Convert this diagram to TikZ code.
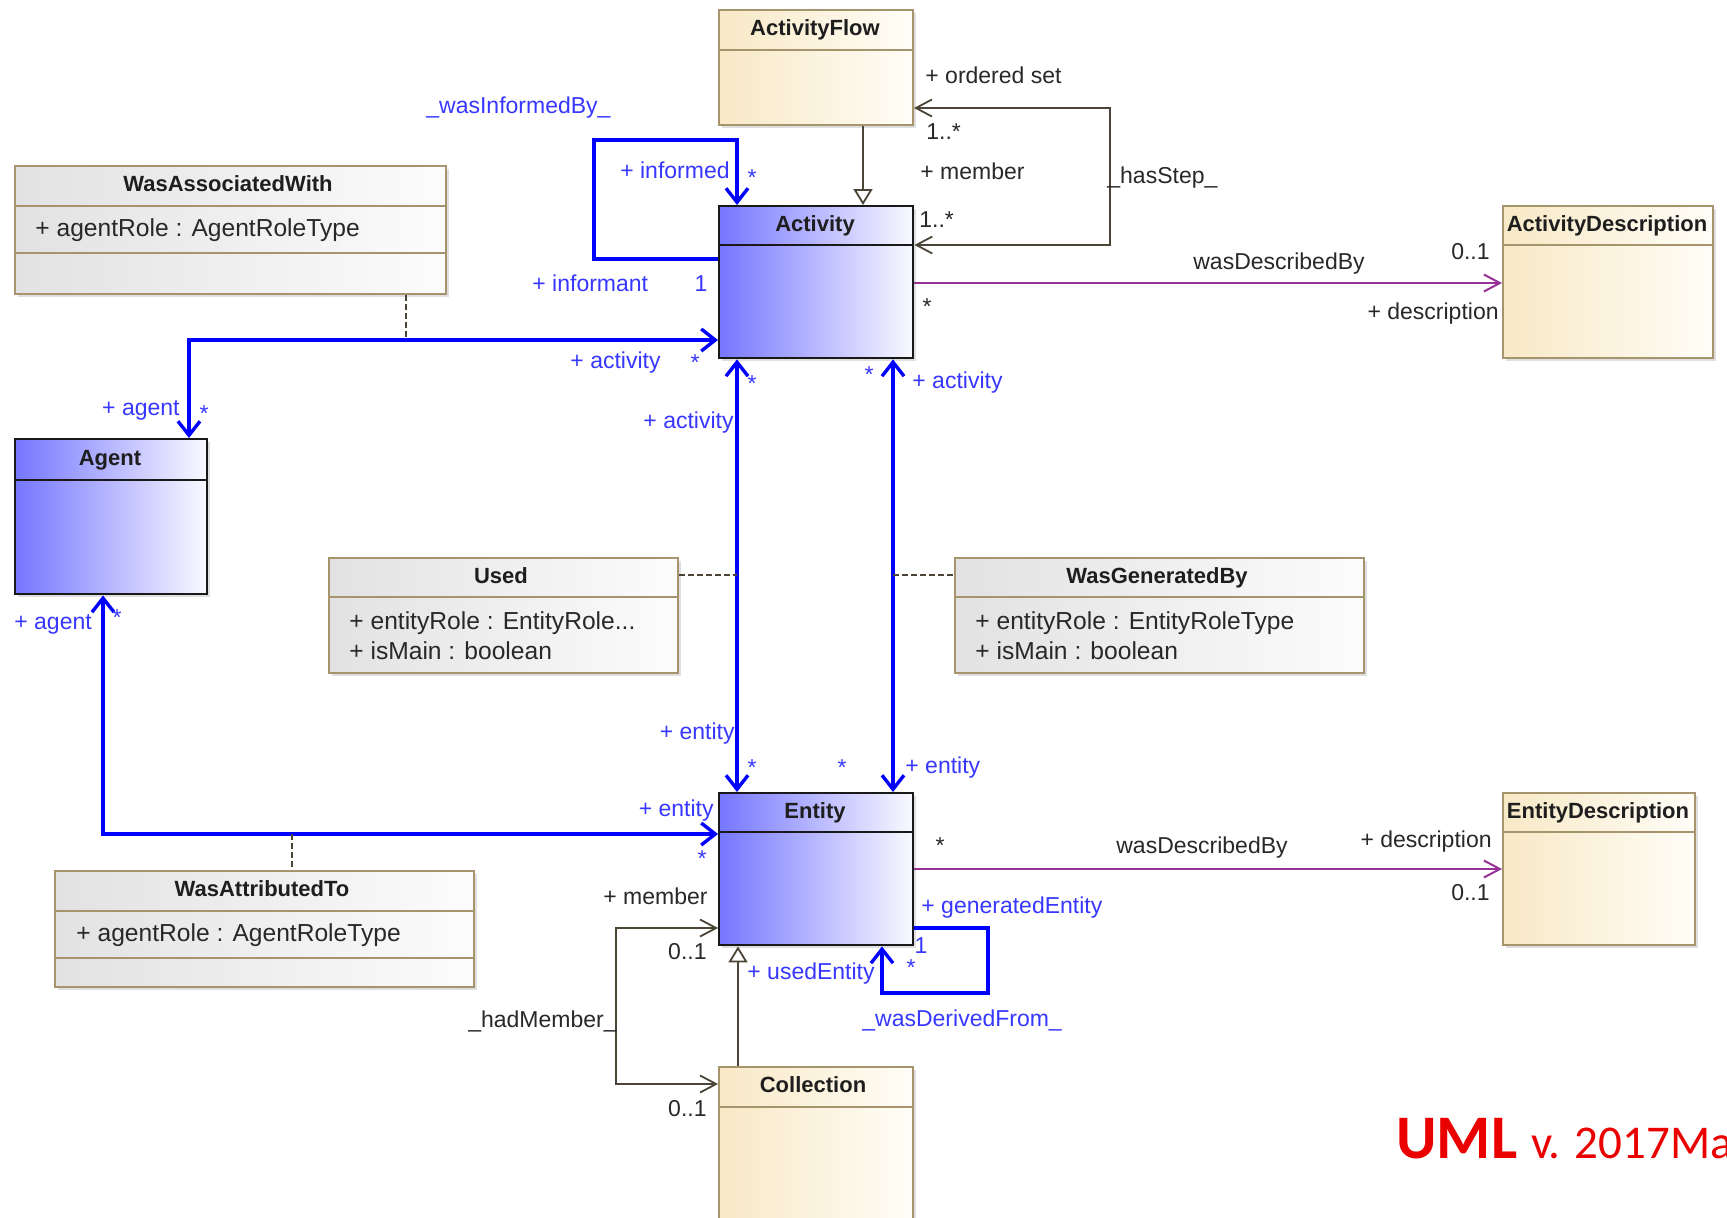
\documentclass[tikz,border=0pt]{standalone}
\usepackage{fontspec}
\setmainfont{Liberation Sans}
\newfontfamily\calibri{Carlito}
\usetikzlibrary{arrows.meta,shadows}
\definecolor{blueL}{RGB}{118,118,255}
\definecolor{blueR}{RGB}{250,250,255}
\definecolor{tanL}{RGB}{248,233,198}
\definecolor{tanR}{RGB}{255,253,247}
\definecolor{grayL}{RGB}{226,226,226}
\definecolor{grayR}{RGB}{252,252,252}
\definecolor{clsborder}{RGB}{25,25,25}
\definecolor{tanborder}{RGB}{165,148,108}
\definecolor{titlecol}{RGB}{30,30,30}
\definecolor{textcol}{RGB}{40,40,40}
\definecolor{lblblue}{RGB}{55,55,255}
\definecolor{assocblue}{RGB}{0,0,255}
\definecolor{linegray}{RGB}{75,68,55}
\definecolor{purp}{RGB}{150,50,150}
\definecolor{umlred}{RGB}{235,0,0}
\tikzset{
  btip/.tip={Straight Barb[length=7pt,width=11pt]},
  ttip/.tip={Straight Barb[length=8pt,width=8.5pt]},
  gtip/.tip={Triangle[length=8pt,width=9.5pt,fill=white]},
}
\begin{document}
\begin{tikzpicture}[x=0.5pt,y=-0.5pt,
  clsbase/.style={rectangle, anchor=north west, inner sep=0pt,
    drop shadow={shadow xshift=1.5pt,shadow yshift=-1.5pt,opacity=0.25}},
  bluebox/.style={clsbase, draw=clsborder, line width=1.2pt, left color=blueL, right color=blueR},
  tanbox/.style={clsbase, draw=tanborder, line width=1pt, left color=tanL, right color=tanR},
  graybox/.style={clsbase, draw=tanborder, line width=1pt, left color=grayL, right color=grayR},
  bluediv/.style={draw=clsborder, line width=1.2pt},
  tandiv/.style={draw=tanborder, line width=1pt},
  clstitle/.style={font=\bfseries\fontsize{11}{13}\selectfont, text=titlecol, inner sep=0pt, text height=1.5ex, text depth=.25ex},
  attrtxt/.style={font=\fontsize{12.3}{14}\selectfont, text=textcol, anchor=west, inner sep=0pt, text height=1.5ex, text depth=.25ex},
  lbl/.style={font=\fontsize{11.5}{13}\selectfont, inner sep=0pt, text height=1.5ex, text depth=.25ex},
  blbl/.style={lbl, text=lblblue},
  klbl/.style={lbl, text=textcol},
  blueline/.style={draw=assocblue, line width=1.7pt},
  grayline/.style={draw=linegray, line width=0.9pt},
  purpline/.style={draw=purp, line width=1pt},
  dashline/.style={draw=linegray, line width=0.8pt, dash pattern=on 3pt off 1.5pt},
]
\useasboundingbox (0,0) rectangle (1727,1217);
\clip (0,0) rectangle (1727,1217);
\fill[white] (0,0) rectangle (1727,1217);

% ---------- class boxes ----------
\node[tanbox, minimum width=97pt, minimum height=57.5pt] (actflow) at (718,9) {};
\node[bluebox, minimum width=97pt, minimum height=76pt] (activity) at (718,205) {};
\node[tanbox, minimum width=105pt, minimum height=76pt] (actdesc) at (1502,205) {};
\node[graybox, minimum width=215.5pt, minimum height=64pt] (assoc) at (14,165) {};
\node[bluebox, minimum width=96pt, minimum height=77.5pt] (agent) at (14,438) {};
\node[graybox, minimum width=174.5pt, minimum height=57.5pt] (used) at (328,557) {};
\node[graybox, minimum width=204.5pt, minimum height=57.5pt] (wgb) at (954,557) {};
\node[bluebox, minimum width=97pt, minimum height=76pt] (entity) at (718,792) {};
\node[tanbox, minimum width=96pt, minimum height=76pt] (entdesc) at (1502,792) {};
\node[graybox, minimum width=209.5pt, minimum height=58pt] (wat) at (54,870) {};
\node[tanbox, minimum width=97pt, minimum height=90pt] (collection) at (718,1066) {};

% dividers
\draw[tandiv] ([yshift=-20.5pt]actflow.north west) -- ([yshift=-20.5pt]actflow.north east);
\draw[bluediv] ([yshift=-20pt]activity.north west) -- ([yshift=-20pt]activity.north east);
\draw[tandiv] ([yshift=-20pt]actdesc.north west) -- ([yshift=-20pt]actdesc.north east);
\draw[tandiv] ([yshift=-20.5pt]assoc.north west) -- ([yshift=-20.5pt]assoc.north east);
\draw[tandiv] ([yshift=-44pt]assoc.north west) -- ([yshift=-44pt]assoc.north east);
\draw[bluediv] ([yshift=-21pt]agent.north west) -- ([yshift=-21pt]agent.north east);
\draw[tandiv] ([yshift=-20pt]used.north west) -- ([yshift=-20pt]used.north east);
\draw[tandiv] ([yshift=-20pt]wgb.north west) -- ([yshift=-20pt]wgb.north east);
\draw[bluediv] ([yshift=-20pt]entity.north west) -- ([yshift=-20pt]entity.north east);
\draw[tandiv] ([yshift=-20pt]entdesc.north west) -- ([yshift=-20pt]entdesc.north east);
\draw[tandiv] ([yshift=-20.5pt]wat.north west) -- ([yshift=-20.5pt]wat.north east);
\draw[tandiv] ([yshift=-44pt]wat.north west) -- ([yshift=-44pt]wat.north east);
\draw[tandiv] ([yshift=-20.5pt]collection.north west) -- ([yshift=-20.5pt]collection.north east);

% titles
\node[clstitle] (actflow-t) at (815,29) {ActivityFlow};
\node[clstitle] (activity-t) at (815,225) {Activity};
\node[clstitle] (actdesc-t) at (1607,225) {ActivityDescription};
\node[clstitle] (assoc-t) at (228,185) {WasAssociatedWith};
\node[clstitle] (agent-t) at (110,459) {Agent};
\node[clstitle] (used-t) at (501,577) {Used};
\node[clstitle] (wgb-t) at (1157,577) {WasGeneratedBy};
\node[clstitle] (entity-t) at (815,812) {Entity};
\node[clstitle] (entdesc-t) at (1598,812) {EntityDescription};
\node[clstitle] (wat-t) at (262,890) {WasAttributedTo};
\node[clstitle] (coll-t) at (813,1086) {Collection};

% attributes
\node[attrtxt] (assoc-a1) at (35,230) {+ agentRole : AgentRoleType};
\node[attrtxt] (used-a1) at (349,623) {+ entityRole : EntityRole...};
\node[attrtxt] (used-a2) at (349,653) {+ isMain : boolean};
\node[attrtxt] (wgb-a1) at (975,623) {+ entityRole : EntityRoleType};
\node[attrtxt] (wgb-a2) at (975,653) {+ isMain : boolean};
\node[attrtxt] (wat-a1) at (76,935) {+ agentRole : AgentRoleType};

% ---------- connectors ----------
% generalizations
\draw[grayline, -{gtip}] (863,0 |- actflow.south) -- (863,0 |- activity.north);
\draw[grayline, -{gtip}] (738,0 |- collection.north) -- (738,0 |- entity.south);
% _hasStep_
\draw[grayline, {ttip}-{ttip}] (activity.east |- 0,245) -| (1110,108) -- (actflow.east |- 0,108);
% _hadMember_
\draw[grayline, {ttip}-{ttip}] (entity.west |- 0,928) -| (616,1084) -- (collection.west |- 0,1084);
% wasDescribedBy
\draw[purpline, -{ttip}] (activity.east |- 0,283) -- (actdesc.west |- 0,283);
\draw[purpline, -{ttip}] (entity.east |- 0,869) -- (entdesc.west |- 0,869);
% _wasInformedBy_
\draw[blueline, -{btip}] (activity.west |- 0,259) -| (594,140) -| (737,0 |- activity.north);
% _wasDerivedFrom_
\draw[blueline, -{btip}] (entity.east |- 0,928) -| (988,993) -| (882,0 |- entity.south);
% WasAssociatedWith
\draw[blueline, {btip}-{btip}] (189,0 |- agent.north) |- (activity.west |- 0,340);
\coordinate (assocj) at (406,340);
\draw[dashline] (406,0 |- assoc.south) -- (assocj);
% Used
\draw[blueline, {btip}-{btip}] (737,0 |- activity.south) -- (737,0 |- entity.north);
\coordinate (usedj) at (737,575);
\draw[dashline] (used.east |- usedj) -- (usedj);
% WasGeneratedBy
\draw[blueline, {btip}-{btip}] (893,0 |- activity.south) -- (893,0 |- entity.north);
\coordinate (wgbj) at (893,575);
\draw[dashline] (wgbj) -- (wgb.west |- wgbj);
% WasAttributedTo
\draw[blueline, {btip}-{btip}] (103,0 |- agent.south) |- (entity.west |- 0,834);
\coordinate (watj) at (292,834);
\draw[dashline] (watj) -- (292,0 |- wat.north);

% ---------- labels (dark) ----------
\node[klbl, anchor=west] (l1) at (925,77) {+ ordered set};
\node[klbl, anchor=west] (l2) at (926,133) {1..*};
\node[klbl, anchor=west] (l3) at (920,173) {+ member};
\node[klbl, anchor=west] (l4) at (919,221) {1..*};
\node[klbl, anchor=west] (l5) at (1107,177) {\_hasStep\_};
\node[klbl] (l6) at (1279,263) {wasDescribedBy};
\node[klbl, anchor=east] (l7) at (1490,253) {0..1};
\node[klbl] (l8) at (927,308) {*};
\node[klbl, anchor=east] (l9) at (1499,313) {+ description};
\node[klbl] (l10) at (940,847) {*};
\node[klbl] (l11) at (1202,847) {wasDescribedBy};
\node[klbl, anchor=east] (l12) at (1492,841) {+ description};
\node[klbl, anchor=east] (l13) at (1490,894) {0..1};
\node[klbl, anchor=east] (l14) at (708,898) {+ member};
\node[klbl, anchor=east] (l15) at (707,953) {0..1};
\node[klbl, anchor=east] (l16) at (617,1021) {\_hadMember\_};
\node[klbl, anchor=east] (l17) at (707,1110) {0..1};

% ---------- labels (blue) ----------
\node[blbl, anchor=west] (b1) at (426,107) {\_wasInformedBy\_};
\node[blbl, anchor=east] (b2) at (730,172) {+ informed};
\node[blbl] (b3) at (752,179) {*};
\node[blbl, anchor=west] (b4) at (532,285) {+ informant};
\node[blbl] (b5) at (701,285) {1};
\node[blbl, anchor=east] (b6) at (661,362) {+ activity};
\node[blbl] (b7) at (695,364) {*};
\node[blbl, anchor=east] (b8) at (180,409) {+ agent};
\node[blbl] (b9) at (204,415) {*};
\node[blbl] (b10) at (752,385) {*};
\node[blbl, anchor=east] (b11) at (734,422) {+ activity};
\node[blbl] (b12) at (869,376) {*};
\node[blbl, anchor=west] (b13) at (912,382) {+ activity};
\node[blbl, anchor=east] (b14) at (735,733) {+ entity};
\node[blbl] (b15) at (752,769) {*};
\node[blbl] (b16) at (842,769) {*};
\node[blbl, anchor=west] (b17) at (905,767) {+ entity};
\node[blbl, anchor=west] (b18) at (14,623) {+ agent};
\node[blbl] (b19) at (117,619) {*};
\node[blbl, anchor=east] (b20) at (714,810) {+ entity};
\node[blbl] (b21) at (702,860) {*};
\node[blbl, anchor=west] (b22) at (921,907) {+ generatedEntity};
\node[blbl] (b23) at (921,947) {1};
\node[blbl] (b24) at (911,969) {*};
\node[blbl, anchor=west] (b25) at (747,973) {+ usedEntity};
\node[blbl, anchor=west] (b26) at (862,1020) {\_wasDerivedFrom\_};

% ---------- version stamp ----------
\node[anchor=base west, inner sep=0pt, text=umlred] (umltxt) at (1396,1158)
  {{\calibri\bfseries\fontsize{31}{31}\selectfont UML}\hspace{7pt}{\calibri\fontsize{23.5}{24}\selectfont v. 2017Ma}};
\end{tikzpicture}
\end{document}
